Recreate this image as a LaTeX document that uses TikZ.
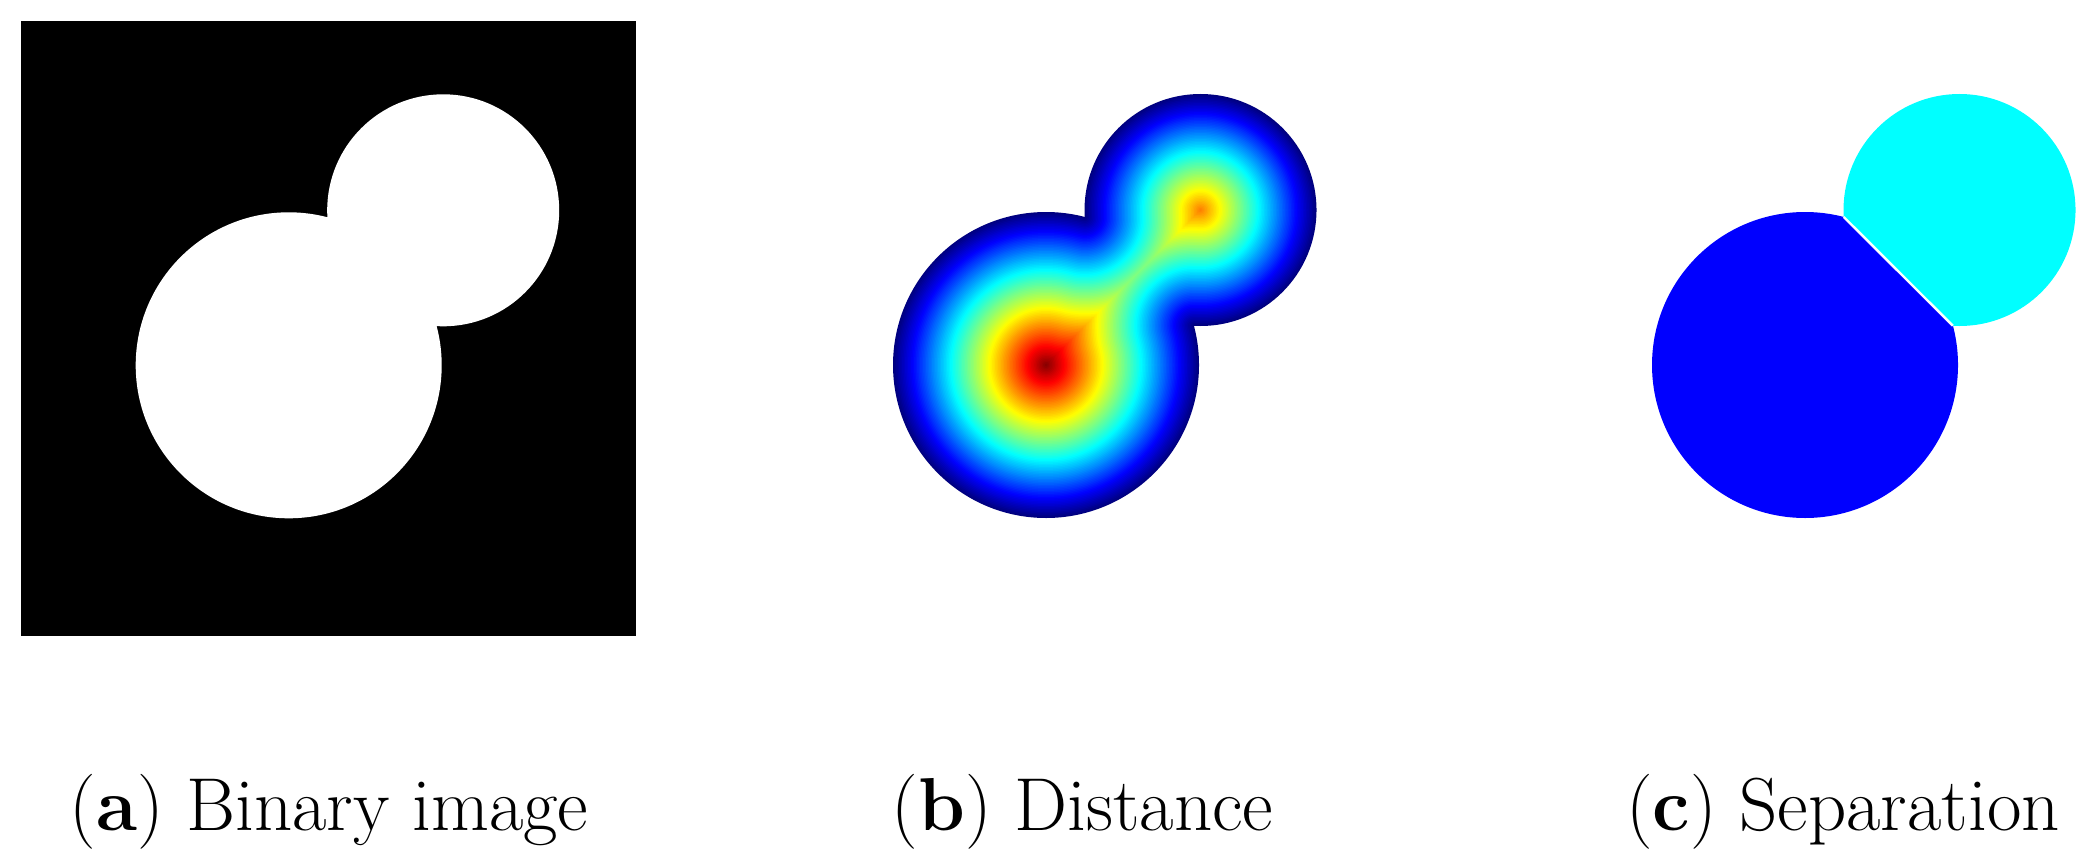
\documentclass[tikz,border=0pt]{standalone}
\usetikzlibrary{calc}
\definecolor{sepblue}{RGB}{0,0,255}
\definecolor{sepcyan}{RGB}{0,255,255}
\begin{document}
\begin{tikzpicture}[x=0.5pt,y=0.5pt,
  caption/.style={anchor=base, inner sep=0pt, font=\fontsize{37.5}{42}\selectfont}]
\useasboundingbox (0,0) rectangle (2096,848);

% ---------------- (a) binary image ----------------
\fill[black] (21,212) rectangle (636,827);
\coordinate (a1) at (288.7,482.7);
\coordinate (a2) at (443.2,637.7);
\fill[white] (a1) circle (153) (a2) circle (116);

% ---------------- (b) distance transform ----------------
\coordinate (b1) at (1046,483);
\coordinate (b2) at (1200.5,638);
\coordinate (bP) at (1084.72,631.02);
\coordinate (bQ) at (1193.90,522.20);
\foreach \k in {0,...,101} {
  \pgfmathsetmacro{\dd}{\k*1.5}
  \pgfmathsetmacro{\jt}{\dd/153}
  \pgfmathsetmacro{\jr}{max(0,min(1,min(4*\jt-1.5,-4*\jt+4.5)))}
  \pgfmathsetmacro{\jg}{max(0,min(1,min(4*\jt-0.5,-4*\jt+3.5)))}
  \pgfmathsetmacro{\jb}{max(0,min(1,min(4*\jt+0.5,-4*\jt+2.5)))}
  \definecolor{jc}{rgb}{\jr,\jg,\jb}
  \pgfmathsetmacro{\ra}{153-\dd}
  \pgfmathsetmacro{\rb}{116-\dd}
  \fill[jc] (b1) circle (\ra);
  \ifdim\rb pt>0pt
    \fill[jc] (b2) circle (\rb);
  \fi
  \ifnum\k>0
    \begin{scope}[even odd rule]
      \clip (0,0) -- (0,848) -- (2096,848) -- (2096,0) -- cycle
        (bP) circle (\dd);
      \clip (0,0) -- (0,848) -- (2096,848) -- (2096,0) -- cycle
        (bQ) circle (\dd);
      \fill[jc] (b1) -- (bP) -- (b2) -- (bQ) -- cycle;
    \end{scope}
  \fi
}

% ---------------- (c) separation ----------------
\coordinate (c1) at (1805,483);
\coordinate (c2) at (1959.5,638);
\coordinate (cP) at (1843.72,631.02);
\coordinate (cQ) at (1952.90,522.20);
\fill[sepcyan] (c2) circle (116);
\begin{scope}
  \clip (1702.07,772.21) -- (2094.55,381.01) -- (1812.17,97.71) -- (1419.69,488.91) -- cycle;
  \fill[sepblue] (c1) circle (153);
\end{scope}
\draw[white, line width=1.2pt] (cP) -- (cQ);

% ---------------- captions ----------------
\node[caption] (capa) at (329,18) {(\textbf{a}) Binary image};
\node[caption] (capb) at (1082.5,18) {(\textbf{b}) Distance};
\node[caption] (capc) at (1843,18) {(\textbf{c}) Separation};
\end{tikzpicture}
\end{document}
